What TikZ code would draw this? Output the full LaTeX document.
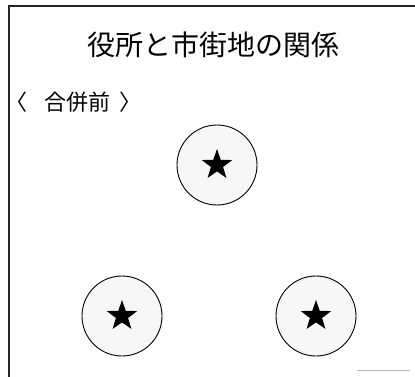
\documentclass[tikz,border=0pt]{standalone}
\usepackage{fontspec}
\newfontfamily\cjk{Noto Sans CJK JP}
\usetikzlibrary{shapes.geometric}
\begin{document}
\begin{tikzpicture}[x=1pt,y=-1pt,
  frameline/.style={line width=1.4pt, black!85},
  town/.style={circle, draw, line width=0.9pt, fill=gray!6, minimum size=80pt, inner sep=0pt},
  office/.style={star, star points=5, star point ratio=2.5, fill=black, draw=none, minimum size=32pt, inner sep=0pt},
  titletext/.style={font=\cjk\fontsize{28}{30}\selectfont, inner sep=0pt},
  subtext/.style={font=\cjk\fontsize{22}{26}\selectfont, inner sep=0pt}]
\useasboundingbox (0,0) rectangle (415,377);
\coordinate (tl) at (9,6);
\coordinate (tr) at (415,6);
\coordinate (bl) at (9,377);
\draw[frameline] (tr) -- (tl) -- (bl);
\coordinate (g1) at (357,370);
\coordinate (g2) at (410,370);
\draw[line width=1pt, gray!60] (g1) -- (g2);
\node[titletext] (title) at (213,45) {役所と市街地の関係};
\node[subtext, anchor=west] (lb) at (5,102) {〈};
\node[subtext] (sub) at (77,102) {合併前};
\node[subtext, anchor=east] (rb) at (142,102) {〉};
\node[town] (c1) at (217,165) {};
\node[town] (c2) at (122,316) {};
\node[town] (c3) at (316,316) {};
\node[office] (s1) at (c1) {};
\node[office] (s2) at (c2) {};
\node[office] (s3) at (c3) {};
\end{tikzpicture}
\end{document}
